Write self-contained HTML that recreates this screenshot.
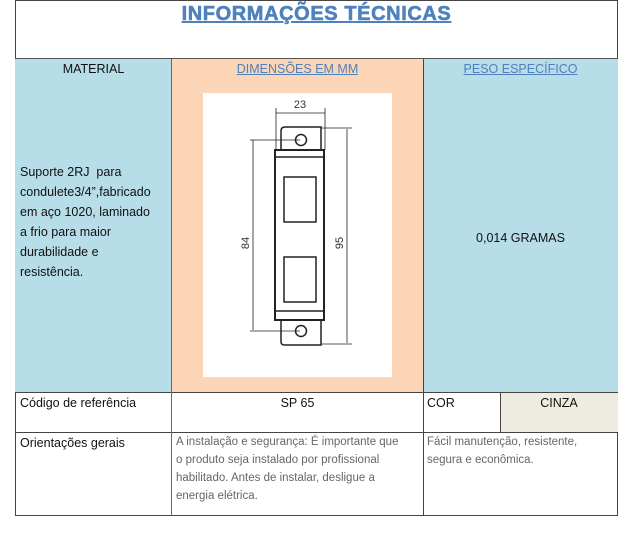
<!DOCTYPE html>
<html><head><meta charset="utf-8"><style>
body{margin:0;width:618px;height:537px;background:#fff;position:relative;font-family:"Liberation Sans",sans-serif;overflow:hidden}
.a{position:absolute;box-sizing:border-box}
.t{font-size:12.5px;color:#111}
.g{font-size:11.5px;color:#666;line-height:18px}
</style></head><body>
<div class="a" style="left:15px;top:0;width:603px;height:516px;border:1.5px solid #444"></div>
<div class="a" style="left:15px;top:3px;width:603px;text-align:center;font-weight:bold;font-size:20px;letter-spacing:0.6px;color:#4f81bd;text-decoration:underline;-webkit-text-stroke:0.6px #4f81bd">INFORMAÇÕES TÉCNICAS</div>
<div class="a" style="left:15px;top:59px;width:157px;height:333px;background:#b7dde8"></div>
<div class="a" style="left:172px;top:59px;width:251px;height:333px;background:#fbd5b5"></div>
<div class="a" style="left:423px;top:59px;width:195px;height:333px;background:#b7dde8"></div>
<div class="a" style="left:500px;top:392px;width:118px;height:40px;background:#eeece1"></div>
<div class="a" style="left:15px;top:58px;width:603px;border-top:1.5px solid #555"></div>
<div class="a" style="left:15px;top:392px;width:603px;border-top:1px solid #444"></div>
<div class="a" style="left:15px;top:432px;width:603px;border-top:1px solid #444"></div>
<div class="a" style="left:171px;top:59px;height:457px;border-left:1.5px solid #666"></div>
<div class="a" style="left:423px;top:59px;height:457px;border-left:1px solid #444"></div>
<div class="a" style="left:500px;top:392px;height:40px;border-left:1px solid #444"></div>
<div class="a t" style="left:15px;top:62px;width:157px;text-align:center">MATERIAL</div>
<div class="a t" style="left:172px;top:62px;width:251px;text-align:center;color:#4f81bd;text-decoration:underline">DIMENSÕES EM MM</div>
<div class="a t" style="left:423px;top:62px;width:195px;text-align:center;color:#4f81bd;text-decoration:underline">PESO ESPECÍFICO</div>
<div class="a t" style="left:20px;top:162px;width:150px;line-height:20px">Suporte 2RJ&nbsp; para<br>condulete3/4”,fabricado<br>em aço 1020, laminado<br>a frio para maior<br>durabilidade e<br>resistência.</div>
<div class="a t" style="left:423px;top:231px;width:195px;text-align:center">0,014 GRAMAS</div>
<div class="a t" style="left:20px;top:396px">Código de referência</div>
<div class="a t" style="left:172px;top:396px;width:251px;text-align:center">SP 65</div>
<div class="a t" style="left:427px;top:396px">COR</div>
<div class="a t" style="left:500px;top:396px;width:118px;text-align:center">CINZA</div>
<div class="a t" style="left:20px;top:436px">Orientações gerais</div>
<div class="a g" style="left:176px;top:433px;width:245px">A instalação e segurança: É importante que<br>o produto seja instalado por profissional<br>habilitado. Antes de instalar, desligue a<br>energia elétrica.</div>
<div class="a g" style="left:427px;top:433px;width:185px">Fácil manutenção, resistente,<br>segura e econômica.</div>
<svg class="a" style="left:0;top:0" width="618" height="537">
<rect x="203" y="93" width="189" height="284" fill="#fff"/>
<g stroke="#222" fill="none">
<path d="M281,150 V131 Q281,127 285,127 H321 V150" stroke-width="1.5"/>
<path d="M281,320 V342 Q281,345 285,345 H321 V320" stroke-width="1.5"/>
<circle cx="301" cy="140" r="5.5" stroke-width="1.5"/>
<circle cx="301" cy="331" r="5.5" stroke-width="1.5"/>
<rect x="275" y="150" width="49" height="170" stroke-width="2"/>
<line x1="275" y1="157" x2="324" y2="157" stroke-width="1.5"/>
<line x1="275" y1="311" x2="324" y2="311" stroke-width="1.5"/>
<rect x="284" y="177" width="32" height="45" stroke-width="1.5"/>
<rect x="284" y="257" width="32" height="45" stroke-width="1.5"/>
<g stroke-width="0.8">
<line x1="276" y1="113" x2="325" y2="113"/><line x1="276" y1="108" x2="276" y2="150"/><line x1="325" y1="108" x2="325" y2="150"/>
<line x1="253" y1="140" x2="253" y2="330"/><line x1="250" y1="140" x2="300" y2="140"/><line x1="250" y1="331" x2="300" y2="331"/>
<line x1="347" y1="129" x2="347" y2="343"/><line x1="321" y1="128" x2="352" y2="128"/><line x1="321" y1="344" x2="352" y2="344"/>
</g></g>
<g font-size="11" fill="#333" font-family="Liberation Sans,sans-serif" text-anchor="middle">
<text x="300" y="108">23</text>
<text transform="translate(249,243) rotate(-90)">84</text>
<text transform="translate(343,243) rotate(-90)">95</text>
</g>
</svg>
</body></html>
